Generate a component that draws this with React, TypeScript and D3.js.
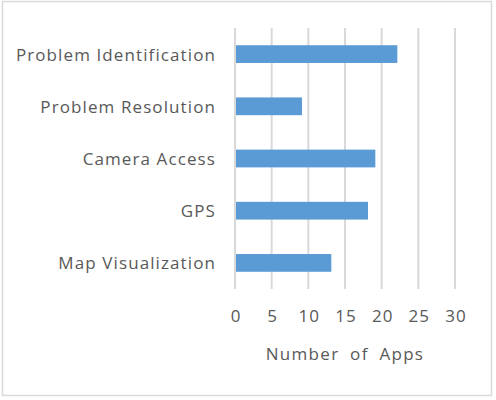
import * as d3 from "d3";

const categories = ["Problem Identification", "Problem Resolution", "Camera Access", "GPS", "Map Visualization"];
const values = [22, 9, 19, 18, 13];
const ticks = [0, 5, 10, 15, 20, 25, 30];

export default function App() {
  const width = 496;
  const height = 400;
  const margin = { top: 28, right: 41, bottom: 111, left: 235 };
  const plotW = width - margin.left - margin.right;
  const plotH = height - margin.top - margin.bottom;

  const x = d3.scaleLinear().domain([0, 30]).range([0, plotW]);
  const y = d3.scaleBand().domain(categories).range([0, plotH]).paddingInner(0.66).paddingOuter(0.33);

  const font = "'Open Sans', sans-serif";
  const textColor = "#595959";

  return (
    <svg width={width} height={height} style={{ position: "absolute", left: 0, top: 0 }}>
      <rect x={2.5} y={1.5} width={489} height={394} fill="#fff" stroke="#d9d9d9" strokeWidth={1.5} />
      <g transform={`translate(${margin.left},${margin.top})`}>
        {ticks.map((t) => (
          <line key={t} x1={x(t)} x2={x(t)} y1={0} y2={plotH} stroke="#d9d9d9" strokeWidth={2} />
        ))}
        {categories.map((c, i) => (
          <rect key={c} x={x(0) + 1} y={y(c)} width={x(values[i]) - x(0)} height={y.bandwidth()} fill="#5b9bd5" />
        ))}
        {categories.map((c) => (
          <text
            key={c}
            x={-19}
            y={(y(c) ?? 0) + y.bandwidth() / 2}
            textAnchor="end"
            dominantBaseline="central"
            fontFamily={font}
            fontSize={17}
            letterSpacing={1.1}
            fill={textColor}
          >
            {c}
          </text>
        ))}
        {ticks.map((t) => (
          <text
            key={t}
            x={x(t) + 1}
            y={plotH + 26}
            textAnchor="middle"
            dominantBaseline="central"
            fontFamily={font}
            fontSize={17}
            letterSpacing={1}
            fill={textColor}
          >
            {t}
          </text>
        ))}
        <text
          x={plotW / 2}
          y={plotH + 64}
          textAnchor="middle"
          dominantBaseline="central"
          fontFamily={font}
          fontSize={17}
          letterSpacing={1.3}
          wordSpacing={5}
          fill={textColor}
        >
          Number of Apps
        </text>
      </g>
    </svg>
  );
}
